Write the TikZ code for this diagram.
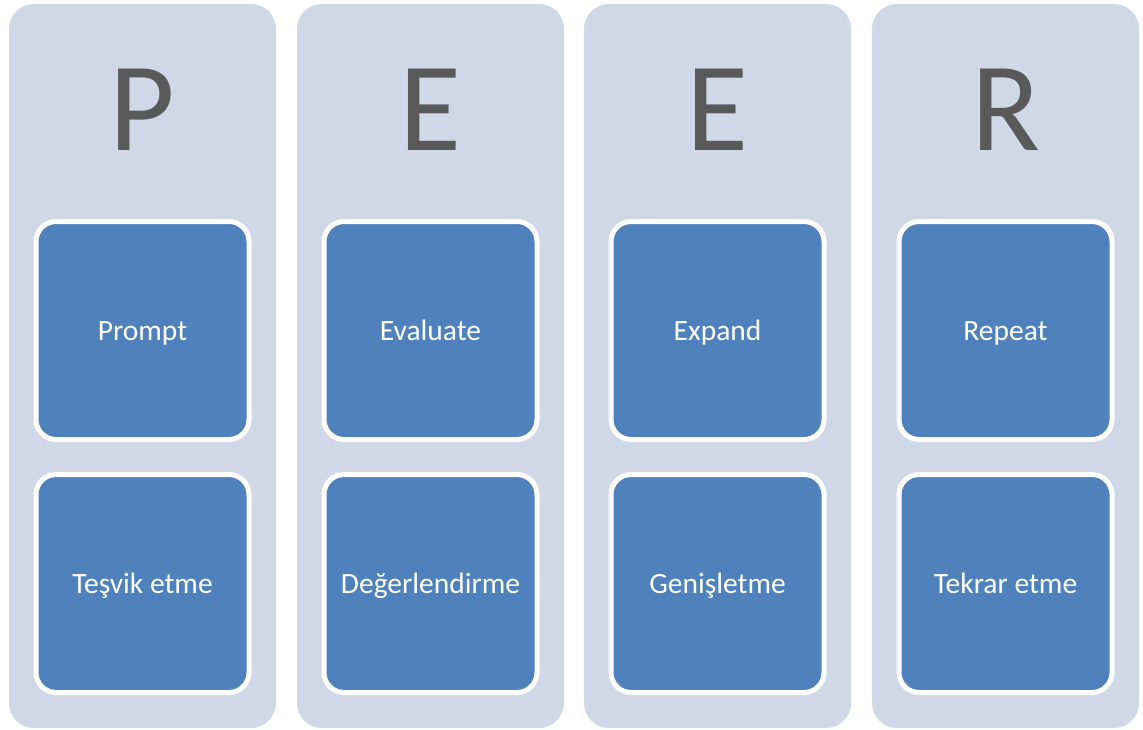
\documentclass[tikz,border=0pt]{standalone}
\usepackage{fontspec}
\setmainfont{Carlito}
\definecolor{ColumnClr}{HTML}{D0D8E8}
\definecolor{BoxClr}{HTML}{4F81BD}
\definecolor{LetterClr}{HTML}{595959}
\tikzset{
  column/.style={fill=ColumnClr, rounded corners=25pt, minimum width=267pt, minimum height=724pt, inner sep=0pt, outer sep=0pt},
  letter/.style={text=LetterClr, font=\fontsize{127}{127}\selectfont, inner sep=0pt, anchor=base},
  stepbox/.style={draw=white, line width=5pt, fill=BoxClr, rounded corners=20pt, minimum width=213pt, minimum height=218pt, text=white, font=\fontsize{29.5}{29.5}\selectfont, text height=19pt, text depth=0pt, inner sep=0pt}
}
\newcommand{\PeerColumn}[5]{%
  \node[column] (col#2) at (#1,-366) {};
  \node[letter] (let#2) at (#1,-150) {#3};
  \node[stepbox] (en#2) at (#1,-330.5) {#4};
  \node[stepbox] (tr#2) at (#1,-583.5) {#5};
}

\begin{document}
\begin{tikzpicture}[x=1pt,y=1pt]
\useasboundingbox (0,0) rectangle (1143,-729);
\PeerColumn{142.5}{1}{P}{Prompt}{Teşvik etme}
\PeerColumn{430.5}{2}{E}{Evaluate}{Değerlendirme}
\PeerColumn{717.5}{3}{E}{Expand}{Genişletme}
\PeerColumn{1005.5}{4}{R}{Repeat}{Tekrar etme}
\end{tikzpicture}
\end{document}
